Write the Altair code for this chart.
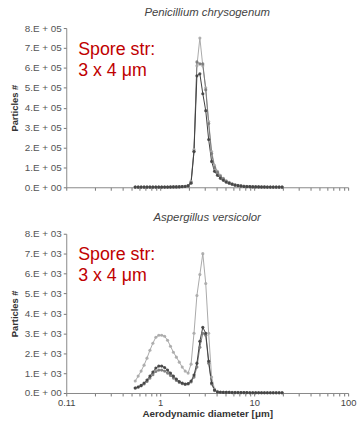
import altair as alt
import pandas as pd

# APS channel midpoints (aerodynamic diameter, µm)
diam = [0.542, 0.583, 0.626, 0.673, 0.723, 0.777, 0.835, 0.898, 0.965, 1.037,
        1.114, 1.197, 1.286, 1.382, 1.486, 1.596, 1.715, 1.843, 1.981, 2.129,
        2.288, 2.458, 2.642, 2.839, 3.051, 3.278, 3.523, 3.786, 4.068, 4.371,
        4.698, 5.048, 5.425, 5.829, 6.264, 6.732, 7.234, 7.774, 8.354, 8.977,
        9.647, 10.37, 11.14, 11.97, 12.86, 13.82, 14.86, 15.96, 17.15, 18.43, 19.81]

# Penicillium chrysogenum (x 1E+05 particles)
pen_light = [0.01, 0.01, 0.01, 0.01, 0.01, 0.01, 0.01, 0.01, 0.01, 0.01,
             0.01, 0.01, 0.02, 0.02, 0.02, 0.03, 0.04, 0.05, 0.08, 0.3,
             1.9, 6.1, 7.5, 6.1, 5.0, 3.3, 1.8, 1.1, 0.8, 0.6,
             0.45, 0.33, 0.25, 0.18, 0.13, 0.1, 0.08, 0.06, 0.05, 0.04,
             0.03, 0.03, 0.02, 0.02, 0.02, 0.01, 0.01, 0.01, 0.01, 0.01, 0.01]
pen_medium = [0.01, 0.01, 0.01, 0.01, 0.01, 0.01, 0.01, 0.01, 0.01, 0.01,
              0.01, 0.01, 0.02, 0.02, 0.02, 0.03, 0.04, 0.05, 0.08, 0.25,
              1.8, 6.3, 6.2, 6.2, 4.9, 3.2, 1.7, 1.0, 0.75, 0.55,
              0.42, 0.3, 0.22, 0.16, 0.12, 0.09, 0.07, 0.05, 0.04, 0.035,
              0.03, 0.025, 0.02, 0.02, 0.02, 0.01, 0.01, 0.01, 0.01, 0.01, 0.01]
pen_dark = [0.01, 0.01, 0.01, 0.01, 0.01, 0.01, 0.01, 0.01, 0.01, 0.01,
            0.01, 0.01, 0.01, 0.02, 0.02, 0.02, 0.03, 0.04, 0.07, 0.2,
            1.8, 5.6, 5.7, 4.7, 3.85, 2.4, 1.3, 0.8, 0.6, 0.45,
            0.35, 0.25, 0.2, 0.15, 0.1, 0.08, 0.06, 0.04, 0.03, 0.03,
            0.02, 0.02, 0.02, 0.01, 0.01, 0.01, 0.01, 0.01, 0.01, 0.01, 0.01]

# Aspergillus versicolor (x 1E+03 particles)
asp_light = [0.6, 0.85, 1.1, 1.4, 1.75, 2.15, 2.5, 2.8, 2.9, 2.9,
             2.85, 2.65, 2.35, 2.05, 1.8, 1.55, 1.3, 1.1, 1.0, 1.45,
             3.0, 4.9, 5.95, 7.0, 5.5, 3.0, 0.8, 0.2, 0.08, 0.05,
             0.04, 0.04, 0.03, 0.03, 0.03, 0.03, 0.02, 0.02, 0.02, 0.02,
             0.02, 0.02, 0.02, 0.01, 0.01, 0.01, 0.01, 0.01, 0.01, 0.01, 0.01]
asp_medium = [0.25, 0.3, 0.36, 0.45, 0.58, 0.75, 0.92, 1.08, 1.15, 1.15,
              1.1, 1.0, 0.88, 0.75, 0.63, 0.53, 0.47, 0.43, 0.45, 0.55,
              0.8, 1.3, 2.3, 3.0, 2.9, 1.5, 0.45, 0.12, 0.05, 0.04,
              0.03, 0.03, 0.03, 0.02, 0.02, 0.02, 0.02, 0.02, 0.02, 0.01,
              0.01, 0.01, 0.01, 0.01, 0.01, 0.01, 0.01, 0.01, 0.01, 0.01, 0.01]
asp_dark = [0.25, 0.3, 0.38, 0.5, 0.65, 0.85, 1.05, 1.25, 1.35, 1.35,
            1.28, 1.15, 1.0, 0.85, 0.7, 0.58, 0.5, 0.45, 0.48, 0.6,
            0.9, 1.5, 2.6, 3.3, 3.0, 1.6, 0.5, 0.15, 0.05, 0.04,
            0.03, 0.03, 0.03, 0.02, 0.02, 0.02, 0.02, 0.02, 0.02, 0.01,
            0.01, 0.01, 0.01, 0.01, 0.01, 0.01, 0.01, 0.01, 0.01, 0.01, 0.01]

x_ticks = [0.1, 0.2, 0.3, 0.4, 0.5, 0.6, 0.7, 0.8, 0.9,
           1, 2, 3, 4, 5, 6, 7, 8, 9,
           10, 20, 30, 40, 50, 60, 70, 80, 90, 100]
series_order = ["light", "medium", "dark"]
series_colors = ["#a9a9a9", "#7a7a7a", "#404040"]


def frame(values, scale):
    rows = []
    for name, vals in zip(series_order, values):
        for d, v in zip(diam, vals):
            rows.append({"series": name, "diam": d, "count": v * scale})
    return pd.DataFrame(rows)


FONT = "Liberation Sans"


def panel(df, title, exp, show_x):
    ymax = 8 * 10 ** exp
    step = 10 ** exp
    yvals = [i * step for i in range(9)]
    label_expr = ("datum.value == 0 ? '0.E + 00' : format(datum.value / %d, 'd') + '.E + 0%d'"
                  % (step, exp))
    x_label_expr = ("datum.value == 0.1 ? '0.11' : (datum.value == 1 || datum.value == 10 "
                    "|| datum.value == 100) ? format(datum.value, 'd') : ''")
    x_axis = alt.Axis(values=x_ticks, labelExpr=x_label_expr, labels=show_x,
                      title="Aerodynamic diameter [\u03bcm]" if show_x else None,
                      grid=False, tickSize=3, domainColor="#888", tickColor="#777",
                      labelColor="#444", labelFontSize=9.5, labelFont=FONT,
                      titleFont=FONT, titleFontSize=10, titleFontWeight="bold",
                      titleColor="#333", titlePadding=1, labelPadding=2,
                      labelFlush=False, labelOverlap=False)
    y_axis = alt.Axis(values=yvals, labelExpr=label_expr, title="Particles #",
                      grid=False, tickSize=3, domainColor="#888", tickColor="#777",
                      labelColor="#555", labelFontSize=10, labelFont=FONT,
                      titleFont=FONT, titleFontSize=9.5, titleFontWeight="bold",
                      titleColor="#333", titlePadding=5, labelPadding=2)
    base = alt.Chart(df).mark_line(
        strokeWidth=1,
        point=alt.OverlayMarkDef(size=10, filled=True, opacity=0.9),
    ).encode(
        x=alt.X("diam:Q", scale=alt.Scale(type="log", domain=[0.1, 100], nice=False),
                axis=x_axis),
        y=alt.Y("count:Q", scale=alt.Scale(domain=[0, ymax], nice=False), axis=y_axis),
        color=alt.Color("series:N", sort=series_order,
                        scale=alt.Scale(domain=series_order, range=series_colors),
                        legend=None),
        order=alt.Order("diam:Q"),
    )
    note = alt.Chart(pd.DataFrame({"t": ["Spore str:\n3 x 4 \u03bcm"]})).mark_text(
        align="left", baseline="alphabetic", font=FONT, fontSize=18,
        color="#c00000", lineBreak="\n", lineHeight=21,
    ).encode(x=alt.value(12), y=alt.value(27), text="t:N")
    return alt.layer(base, note).properties(
        width=285, height=161,
        title=alt.TitleParams(title, font=FONT, fontSize=11.5, fontStyle="italic",
                              fontWeight="normal", color="#444", offset=5,
                              anchor="middle"),
    )


top = panel(frame([pen_light, pen_medium, pen_dark], 1e5), "Penicillium chrysogenum", 5, False)
bottom = panel(frame([asp_light, asp_medium, asp_dark], 1e3), "Aspergillus versicolor", 3, True)

chart = alt.vconcat(top, bottom, spacing=20).properties(
    padding={"left": 9, "top": 4, "right": 4, "bottom": 4},
    background="white",
).configure_view(strokeWidth=0)

chart.save("out.html", embed_options={"renderer": "svg", "actions": False})
